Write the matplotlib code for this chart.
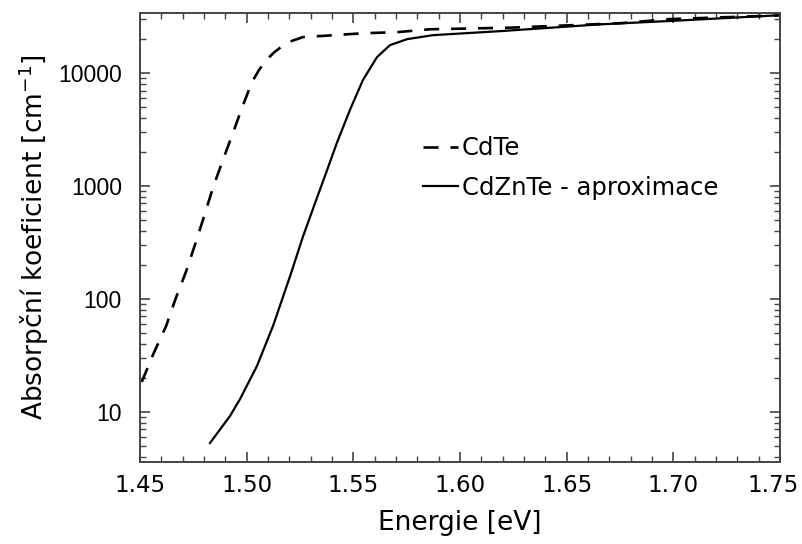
import numpy as np
import matplotlib.pyplot as plt
import matplotlib.transforms as mtransforms
from matplotlib.ticker import FixedLocator, MultipleLocator, LogLocator, NullFormatter

# CdTe (dashed)
cdte_e = [1.4508, 1.4562, 1.4622, 1.4669, 1.4716, 1.4758, 1.4800, 1.4842, 1.4889,
          1.4936, 1.4978, 1.5025, 1.5060, 1.5095, 1.5130, 1.5165, 1.5200, 1.5264,
          1.5405, 1.5545, 1.5705, 1.5859, 1.6234, 1.6750, 1.6980, 1.7500]
cdte_a = [18.4, 32.4, 57.3, 103, 175, 303, 536, 966, 1706,
          2954, 4909, 8335, 10800, 13200, 15300, 17200, 18900, 20800,
          21600, 22500, 23000, 24400, 25200, 27600, 30000, 32400]

# CdZnTe - aproximace (solid)
czt_e = [1.4828, 1.4922, 1.4969, 1.5048, 1.5123, 1.5203, 1.5264, 1.5330, 1.5358,
         1.5423, 1.5484, 1.5545, 1.5611, 1.5672, 1.5752, 1.5873, 1.6190, 1.6660,
         1.7000, 1.7500]
czt_a = [5.3, 9.2, 13, 25.4, 57.3, 158, 357, 790, 1100,
         2411, 4710, 8670, 13840, 17660, 19950, 21640, 23500, 27000,
         29000, 32500]

x_ticks = [1.45, 1.50, 1.55, 1.60, 1.65, 1.70, 1.75]
y_ticks = [10, 100, 1000, 10000]

fig = plt.figure(figsize=(8.02, 5.44), dpi=100)
ax = fig.add_axes([140 / 802, 82 / 544, 640 / 802, 449 / 544])

ax.plot(cdte_e, cdte_a, color='black', lw=1.9, dashes=(5.7, 4.5), label='CdTe')
ax.plot(czt_e, czt_a, color='black', lw=1.6, label='CdZnTe - aproximace')

ax.set_yscale('log')
ax.set_xlim(1.45, 1.75)
ax.set_ylim(3.6, 34000)

ax.xaxis.set_major_locator(FixedLocator(x_ticks))
ax.xaxis.set_minor_locator(MultipleLocator(0.01))
ax.set_xticklabels(['%.2f' % v for v in x_ticks], fontsize=16.5)
ax.yaxis.set_major_locator(FixedLocator(y_ticks))
ax.yaxis.set_minor_locator(LogLocator(base=10, subs=np.arange(2, 10)))
ax.yaxis.set_minor_formatter(NullFormatter())
ax.set_yticklabels([str(v) for v in y_ticks], fontsize=16.5, family='Liberation Sans')

ax.tick_params(which='both', direction='in', top=True, right=True, color='#444444')
ax.tick_params(which='major', length=7, width=1.2)
ax.tick_params(which='minor', length=4.5, width=1.0)
ax.tick_params(axis='x', which='major', pad=9)
ax.tick_params(axis='y', which='major', pad=13)
for s in ax.spines.values():
    s.set_color('#444444')
    s.set_linewidth(1.4)

# posledni popisek trochu doleva, jako v originale
last = ax.get_xticklabels()[-1]
last.set_transform(last.get_transform() +
                   mtransforms.ScaledTranslation(-7 / 100, 0, fig.dpi_scale_trans))

ax.set_xlabel('Energie [eV]', fontsize=19, labelpad=9)
ax.set_ylabel('Absorpční koeficient [cm$^{\\mathregular{-1}}$]', fontsize=19, labelpad=5)

ax.legend(loc='upper left', bbox_to_anchor=(0.442, 0.725), frameon=False,
          fontsize=17.5, handlelength=1.45, handletextpad=0.15, labelspacing=0.62,
          borderpad=0, borderaxespad=0)

fig.savefig('out.png', dpi=100)
